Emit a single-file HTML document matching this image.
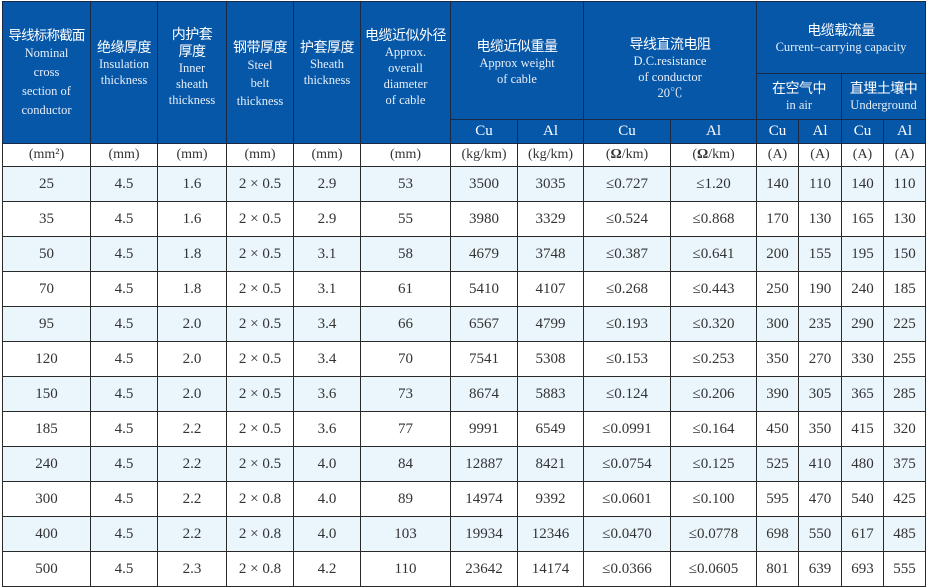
<!DOCTYPE html>
<html><head><meta charset="utf-8"><style>
body{margin:0;width:926px;height:587px;background:#fff;overflow:hidden}
table{position:absolute;left:2px;top:1px;border-collapse:collapse;table-layout:fixed;width:923px;font-family:"Liberation Serif","Noto Serif CJK SC",serif;color:#333}
td{border:1.6px solid #2a2a2a;text-align:center;padding:0;font-size:15px;line-height:1;overflow:hidden;white-space:nowrap}
.h{background:#0757a8;color:#fff;border-color:#1a2a44}
.cn{font-family:"Liberation Sans","Noto Sans CJK SC",sans-serif;font-size:14px;line-height:17px;display:block;letter-spacing:-0.5px}
.en{font-size:12.5px;line-height:16px;display:block;color:#e6eef8}
.u td{background:#fff;font-size:14px}
.b td{background:#eaf5fc}
.w td{background:#fff}
.d td{height:34px}
</style></head><body>
<table>
<colgroup><col style="width:88px"><col style="width:67px"><col style="width:69px"><col style="width:67px"><col style="width:67px"><col style="width:90px"><col style="width:67px"><col style="width:66px"><col style="width:87px"><col style="width:86px"><col style="width:42px"><col style="width:43px"><col style="width:42px"><col style="width:42px"></colgroup>
<tr style="height:72px">
<td class="h" rowspan="3" style="vertical-align:top;padding-top:25px"><span class="cn" style="font-size:13.5px;letter-spacing:-0.8px">导线标称截面</span><span class="en" style="line-height:19px">Nominal<br>cross<br>section of<br>conductor</span></td>
<td class="h" rowspan="3" style="vertical-align:top;padding-top:37px"><span class="cn">绝缘厚度</span><span class="en">Insulation<br>thickness</span></td>
<td class="h" rowspan="3" style="vertical-align:top;padding-top:24px"><span class="cn">内护套<br>厚度</span><span class="en">Inner<br>sheath<br>thickness</span></td>
<td class="h" rowspan="3" style="vertical-align:top;padding-top:37px"><span class="cn">钢带厚度</span><span class="en" style="line-height:18px">Steel<br>belt<br>thickness</span></td>
<td class="h" rowspan="3" style="vertical-align:top;padding-top:37px"><span class="cn">护套厚度</span><span class="en">Sheath<br>thickness</span></td>
<td class="h" rowspan="3" style="vertical-align:top;padding-top:25px"><span class="cn">电缆近似外径</span><span class="en">Approx.<br>overall<br>diameter<br>of cable</span></td>
<td class="h" colspan="2" rowspan="2" style="vertical-align:top;padding-top:36px"><span class="cn">电缆近似重量</span><span class="en">Approx weight<br>of cable</span></td>
<td class="h" colspan="2" rowspan="2" style="vertical-align:top;padding-top:34px"><span class="cn">导线直流电阻</span><span class="en">D.C.resistance<br>of conductor<br>20℃</span></td>
<td class="h" colspan="4" style="padding-top:2px"><span class="cn">电缆载流量</span><span class="en">Current–carrying capacity</span></td>
</tr>
<tr style="height:46px">
<td class="h" colspan="2"><span class="cn">在空气中</span><span class="en">in air</span></td>
<td class="h" colspan="2"><span class="cn">直埋土壤中</span><span class="en">Underground</span></td>
</tr>
<tr style="height:24px">
<td class="h">Cu</td><td class="h">Al</td><td class="h">Cu</td><td class="h">Al</td><td class="h">Cu</td><td class="h">Al</td><td class="h">Cu</td><td class="h">Al</td>
</tr>
<tr class="u" style="height:23px"><td>(mm²)</td><td>(mm)</td><td>(mm)</td><td>(mm)</td><td>(mm)</td><td>(mm)</td><td>(kg/km)</td><td>(kg/km)</td><td>(<b>Ω</b>/km)</td><td>(<b>Ω</b>/km)</td><td>(A)</td><td>(A)</td><td>(A)</td><td>(A)</td></tr>
<tr class="d b"><td>25</td><td>4.5</td><td>1.6</td><td>2 × 0.5</td><td>2.9</td><td>53</td><td>3500</td><td>3035</td><td>≤0.727</td><td>≤1.20</td><td>140</td><td>110</td><td>140</td><td>110</td></tr>
<tr class="d w"><td>35</td><td>4.5</td><td>1.6</td><td>2 × 0.5</td><td>2.9</td><td>55</td><td>3980</td><td>3329</td><td>≤0.524</td><td>≤0.868</td><td>170</td><td>130</td><td>165</td><td>130</td></tr>
<tr class="d b"><td>50</td><td>4.5</td><td>1.8</td><td>2 × 0.5</td><td>3.1</td><td>58</td><td>4679</td><td>3748</td><td>≤0.387</td><td>≤0.641</td><td>200</td><td>155</td><td>195</td><td>150</td></tr>
<tr class="d w"><td>70</td><td>4.5</td><td>1.8</td><td>2 × 0.5</td><td>3.1</td><td>61</td><td>5410</td><td>4107</td><td>≤0.268</td><td>≤0.443</td><td>250</td><td>190</td><td>240</td><td>185</td></tr>
<tr class="d b"><td>95</td><td>4.5</td><td>2.0</td><td>2 × 0.5</td><td>3.4</td><td>66</td><td>6567</td><td>4799</td><td>≤0.193</td><td>≤0.320</td><td>300</td><td>235</td><td>290</td><td>225</td></tr>
<tr class="d w"><td>120</td><td>4.5</td><td>2.0</td><td>2 × 0.5</td><td>3.4</td><td>70</td><td>7541</td><td>5308</td><td>≤0.153</td><td>≤0.253</td><td>350</td><td>270</td><td>330</td><td>255</td></tr>
<tr class="d b"><td>150</td><td>4.5</td><td>2.0</td><td>2 × 0.5</td><td>3.6</td><td>73</td><td>8674</td><td>5883</td><td>≤0.124</td><td>≤0.206</td><td>390</td><td>305</td><td>365</td><td>285</td></tr>
<tr class="d w"><td>185</td><td>4.5</td><td>2.2</td><td>2 × 0.5</td><td>3.6</td><td>77</td><td>9991</td><td>6549</td><td>≤0.0991</td><td>≤0.164</td><td>450</td><td>350</td><td>415</td><td>320</td></tr>
<tr class="d b"><td>240</td><td>4.5</td><td>2.2</td><td>2 × 0.5</td><td>4.0</td><td>84</td><td>12887</td><td>8421</td><td>≤0.0754</td><td>≤0.125</td><td>525</td><td>410</td><td>480</td><td>375</td></tr>
<tr class="d w"><td>300</td><td>4.5</td><td>2.2</td><td>2 × 0.8</td><td>4.0</td><td>89</td><td>14974</td><td>9392</td><td>≤0.0601</td><td>≤0.100</td><td>595</td><td>470</td><td>540</td><td>425</td></tr>
<tr class="d b"><td>400</td><td>4.5</td><td>2.2</td><td>2 × 0.8</td><td>4.0</td><td>103</td><td>19934</td><td>12346</td><td>≤0.0470</td><td>≤0.0778</td><td>698</td><td>550</td><td>617</td><td>485</td></tr>
<tr class="d w"><td>500</td><td>4.5</td><td>2.3</td><td>2 × 0.8</td><td>4.2</td><td>110</td><td>23642</td><td>14174</td><td>≤0.0366</td><td>≤0.0605</td><td>801</td><td>639</td><td>693</td><td>555</td></tr>
</table>
</body></html>
